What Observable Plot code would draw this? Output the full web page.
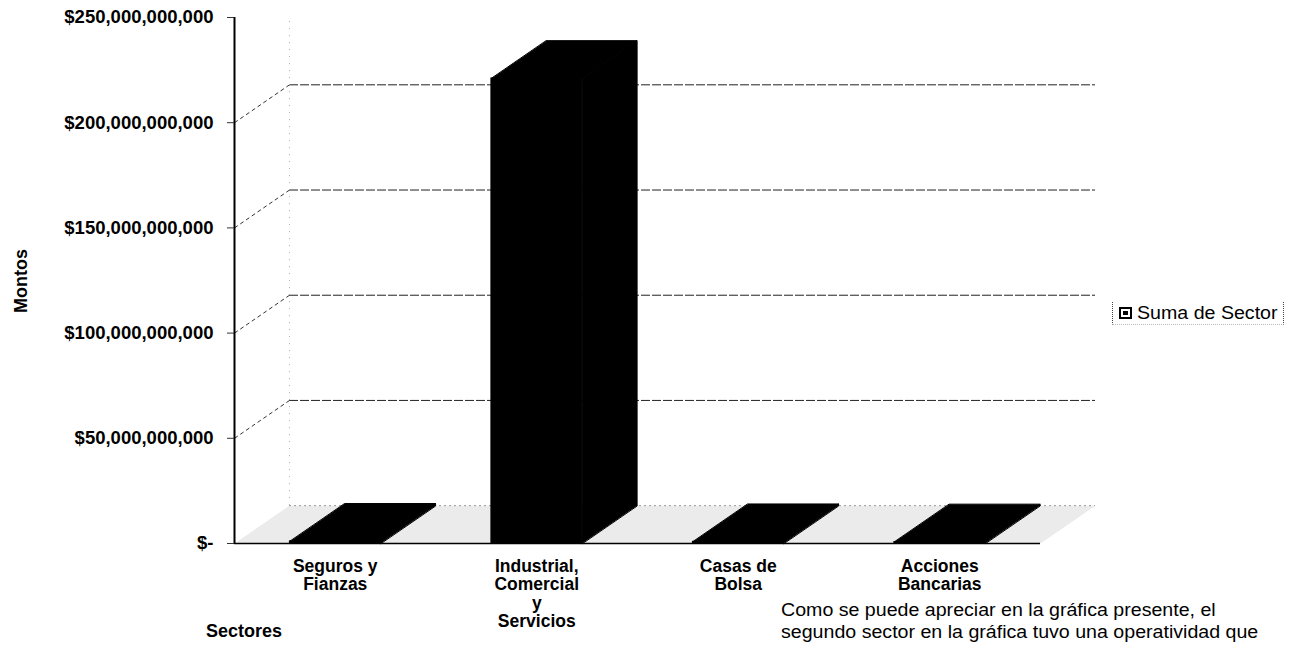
<!DOCTYPE html>
<html><head><meta charset="utf-8">
<script src="https://cdn.jsdelivr.net/npm/d3@7"></script>
<script src="https://cdn.jsdelivr.net/npm/@observablehq/plot@0.6"></script>
<style>
body{margin:0;background:#fff;font-family:"Liberation Sans",Arial,sans-serif;}
#wrap{position:relative;width:1300px;height:648px;overflow:hidden;}
#wrap svg{position:absolute;left:0;top:0;}
.ylab{position:absolute;left:21px;top:281px;transform:translate(-50%,-50%) rotate(-90deg);font-weight:bold;font-size:18px;white-space:nowrap;}
.xlab{position:absolute;left:206px;top:621px;font-weight:bold;font-size:18px;}
.legend{position:absolute;left:1112px;top:302px;width:170px;height:22px;border-left:1px dotted #444;border-right:1px dotted #444;border-bottom:1px dotted #bbb;}
.legend .sw{position:absolute;left:6px;top:5px;width:9px;height:8px;border:2px solid #000;background:#fff;}
.legend .sw:after{content:"";position:absolute;left:2px;top:2px;width:5px;height:4px;background:#000;}
.legend .tx{position:absolute;left:24px;top:0;font-size:17.5px;line-height:22px;white-space:nowrap;transform:scaleX(1.12);transform-origin:left center;}
.caption{position:absolute;left:781px;top:599px;font-size:17.5px;line-height:22px;white-space:nowrap;transform:scaleX(1.12);transform-origin:left top;}
</style></head><body><div id="wrap"></div>
<script>
const categories = ["Seguros y\nFianzas", "Industrial,\nComercial\ny\nServicios", "Casas de\nBolsa", "Acciones\nBancarias"];
const values = [1.0e9, 221e9, 0.8e9, 0.7e9];
const yTicks = [0, 50e9, 100e9, 150e9, 200e9, 250e9];
const seriesName = "Suma de Sector";
const yTitle = "Montos";
const xTitle = "Sectores";
const captionLines = ["Como se puede apreciar en la gráfica presente, el", "segundo sector en la gráfica tuvo una operatividad que"];

// 3D depth in data units
const hw = 0.225, ddx = 0.273, ddy = 18e9;

const bars = values.map((v, i) => ({i, v}));
const polys = [];
bars.forEach(({i, v}) => {
  const a = i - hw, b = i + hw;
  [[b, 0], [b, v], [b + ddx, v + ddy], [b + ddx, ddy]].forEach(([x, y]) => polys.push({x, y, id: "side" + i}));
  [[a, v], [b, v], [b + ddx, v + ddy], [a + ddx, v + ddy]].forEach(([x, y]) => polys.push({x, y, id: "top" + i}));
});
const x0 = -0.5, x1 = categories.length - 0.5;
const floor = [[x0, 0], [x1, 0], [x1 + ddx, ddy], [x0 + ddx, ddy]].map(([x, y]) => ({x, y}));
const gridT = yTicks.filter(t => t > 0 && t + ddy < 250e9);

const fmt = v => v === 0 ? "$-" : "$" + d3.format(",")(v);

const chart = Plot.plot({
  width: 1300, height: 648,
  marginLeft: 234, marginRight: 260, marginTop: 17, marginBottom: 105,
  style: {fontFamily: "Liberation Sans, Arial, sans-serif", fontSize: "17px", fontWeight: "bold", color: "#000", background: "transparent", overflow: "visible"},
  x: {domain: [x0, x1], axis: null},
  y: {domain: [0, 250e9], axis: null},
  marks: [
    Plot.line(floor, {x: "x", y: "y", curve: "linear-closed", fill: "#ebebeb", stroke: "none"}),
    Plot.ruleY(gridT, {y: d => d + ddy, x1: x0 + ddx, x2: x1 + ddx, stroke: "#222", strokeWidth: 1, strokeDasharray: "9,2"}),
    Plot.ruleY([ddy], {y: d => d, x1: x0 + ddx, x2: x1 + ddx, stroke: "#999", strokeDasharray: "2,3"}),
    Plot.link(gridT, {x1: x0, y1: d => d, x2: x0 + ddx, y2: d => d + ddy, stroke: "#333", strokeDasharray: "4,3"}),
    Plot.ruleX([x0 + ddx], {y1: ddy, y2: 250e9, stroke: "#aaa", strokeDasharray: "1,6"}),
    Plot.line(polys, {x: "x", y: "y", z: "id", curve: "linear-closed", fill: "#000", stroke: "#000", strokeWidth: 1}),
    Plot.rectY(bars, {x1: d => d.i - hw, x2: d => d.i + hw, y: "v", fill: "#000", stroke: "#000"}),
    Plot.ruleY([0], {x1: x0, x2: x1, stroke: "#000", strokeWidth: 1.5}),
    Plot.ruleX([x0], {y1: 0, y2: 250e9, stroke: "#000", strokeWidth: 2}),
    Plot.axisY({ticks: yTicks, tickFormat: fmt, tickSize: 7, tickPadding: 14, label: null, fontSize: 18.5, fontWeight: "bold", stroke: "#333"}),
    Plot.text(bars, {x: "i", y: 0, text: d => categories[d.i], dy: 15, lineAnchor: "top", lineHeight: 1.06, fontSize: 17.5, fontWeight: "bold"})
  ]
});
const wrap = document.getElementById("wrap");
wrap.appendChild(chart);
wrap.insertAdjacentHTML("beforeend",
  `<div class="ylab">${yTitle}</div>` +
  `<div class="xlab">${xTitle}</div>` +
  `<div class="legend"><span class="sw"></span><span class="tx">${seriesName}</span></div>` +
  `<div class="caption">${captionLines.join("<br>")}</div>`);
</script>
</body></html>
